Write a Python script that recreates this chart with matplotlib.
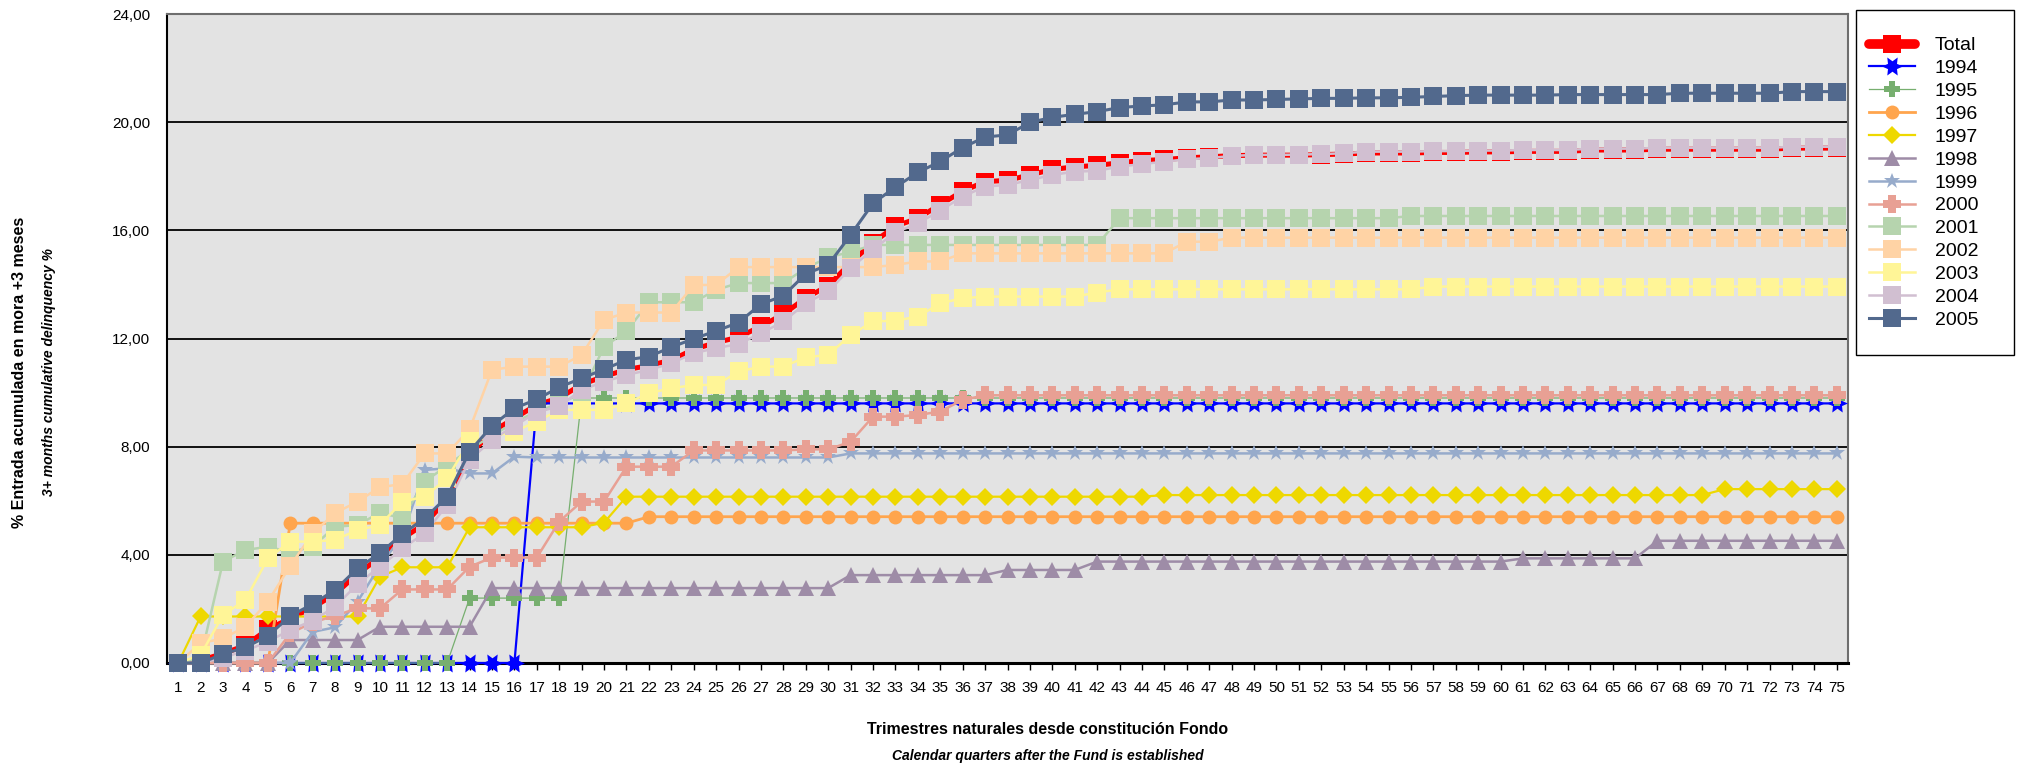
import matplotlib
matplotlib.use("Agg")
import matplotlib.pyplot as plt
from matplotlib.patches import Rectangle
from matplotlib.ticker import FixedLocator, FuncFormatter

plt.rcParams['font.family'] = ['Liberation Sans', 'DejaVu Sans']

# ---------------------------------------------------------------- data
quarters = list(range(1, 76))
y_ticks = [0, 4, 8, 12, 16, 20, 24]

total = [
    0.00, 0.10, 0.35, 0.65, 1.25, 1.65, 2.05, 2.55, 3.30, 3.90,
    4.60, 5.15, 6.05, 7.70, 8.55, 9.05, 9.55, 9.80, 10.30, 10.60,
    10.85, 11.00, 11.20, 11.60, 11.85, 12.05, 12.45, 12.90, 13.50, 13.95,
    14.80, 15.55, 16.15, 16.45, 16.95, 17.45, 17.80, 17.85, 18.05, 18.25,
    18.35, 18.40, 18.50, 18.58, 18.62, 18.68, 18.72, 18.76, 18.78, 18.78,
    18.78, 18.80, 18.82, 18.86, 18.86, 18.86, 18.88, 18.88, 18.90, 18.90,
    18.92, 18.92, 18.92, 18.97, 18.97, 18.97, 19.00, 19.00, 19.00, 19.00,
    19.00, 19.00, 19.04, 19.04, 19.04,
]

y1994 = [
    0.00, 0.00, 0.00, 0.00, 0.00, 0.00, 0.00, 0.00, 0.00, 0.00,
    0.00, 0.00, 0.00, 0.00, 0.00, 0.00, 9.60, 9.60, 9.60, 9.60,
    9.60, 9.60, 9.60, 9.60, 9.60, 9.60, 9.60, 9.60, 9.60, 9.60,
    9.60, 9.60, 9.60, 9.60, 9.60, 9.60, 9.60, 9.60, 9.60, 9.60,
    9.60, 9.60, 9.60, 9.60, 9.60, 9.60, 9.60, 9.60, 9.60, 9.60,
    9.60, 9.60, 9.60, 9.60, 9.60, 9.60, 9.60, 9.60, 9.60, 9.60,
    9.60, 9.60, 9.60, 9.60, 9.60, 9.60, 9.60, 9.60, 9.60, 9.60,
    9.60, 9.60, 9.60, 9.60, 9.60,
]

y1995 = [
    0.00, 0.00, 0.00, 0.00, 0.00, 0.00, 0.00, 0.00, 0.00, 0.00,
    0.00, 0.00, 0.00, 2.40, 2.40, 2.40, 2.40, 2.40, 9.80, 9.80,
    9.80, 9.80, 9.80, 9.80, 9.80, 9.80, 9.80, 9.80, 9.80, 9.80,
    9.80, 9.80, 9.80, 9.80, 9.80, 9.80, 9.80, 9.80, 9.80, 9.80,
    9.80, 9.80, 9.80, 9.80, 9.80, 9.80, 9.80, 9.80, 9.80, 9.80,
    9.80, 9.80, 9.80, 9.80, 9.80, 9.80, 9.80, 9.80, 9.80, 9.80,
    9.80, 9.80, 9.80, 9.80, 9.80, 9.80, 9.80, 9.80, 9.80, 9.80,
    9.80, 9.80, 9.80, 9.80, 9.80,
]

y1996 = [
    0.00, 0.00, 0.00, 0.00, 0.00, 5.17, 5.17, 5.17, 5.17, 5.17,
    5.17, 5.17, 5.17, 5.17, 5.17, 5.17, 5.17, 5.17, 5.17, 5.17,
    5.17, 5.41, 5.41, 5.41, 5.41, 5.41, 5.41, 5.41, 5.41, 5.41,
    5.41, 5.41, 5.41, 5.41, 5.41, 5.41, 5.41, 5.41, 5.41, 5.41,
    5.41, 5.41, 5.41, 5.41, 5.41, 5.41, 5.41, 5.41, 5.41, 5.41,
    5.41, 5.41, 5.41, 5.41, 5.41, 5.41, 5.41, 5.41, 5.41, 5.41,
    5.41, 5.41, 5.41, 5.41, 5.41, 5.41, 5.41, 5.41, 5.41, 5.41,
    5.41, 5.41, 5.41, 5.41, 5.41,
]

y1997 = [
    0.00, 1.72, 1.72, 1.72, 1.72, 1.72, 1.72, 1.72, 1.72, 3.19,
    3.54, 3.54, 3.54, 5.02, 5.02, 5.02, 5.02, 5.02, 5.02, 5.19,
    6.15, 6.15, 6.15, 6.15, 6.15, 6.15, 6.15, 6.15, 6.15, 6.15,
    6.15, 6.15, 6.15, 6.15, 6.15, 6.15, 6.15, 6.15, 6.15, 6.15,
    6.15, 6.15, 6.15, 6.15, 6.21, 6.21, 6.21, 6.21, 6.21, 6.21,
    6.21, 6.21, 6.21, 6.21, 6.21, 6.21, 6.21, 6.21, 6.21, 6.21,
    6.21, 6.21, 6.21, 6.21, 6.21, 6.21, 6.21, 6.21, 6.21, 6.43,
    6.43, 6.43, 6.43, 6.43, 6.43,
]

y1998 = [
    0.00, 0.00, 0.00, 0.00, 0.00, 0.85, 0.85, 0.85, 0.85, 1.34,
    1.34, 1.34, 1.34, 1.34, 2.77, 2.77, 2.77, 2.77, 2.77, 2.77,
    2.77, 2.77, 2.77, 2.77, 2.77, 2.77, 2.77, 2.77, 2.77, 2.77,
    3.25, 3.25, 3.25, 3.25, 3.25, 3.25, 3.25, 3.44, 3.44, 3.44,
    3.44, 3.75, 3.75, 3.75, 3.75, 3.75, 3.75, 3.75, 3.75, 3.75,
    3.75, 3.75, 3.75, 3.75, 3.75, 3.75, 3.75, 3.75, 3.75, 3.75,
    3.87, 3.87, 3.87, 3.87, 3.87, 3.87, 4.52, 4.52, 4.52, 4.52,
    4.52, 4.52, 4.52, 4.52, 4.52,
]

y1999 = [
    0.00, 0.00, 0.00, 0.00, 0.00, 0.00, 1.15, 1.32, 2.27, 3.60,
    4.70, 7.14, 7.20, 7.01, 7.01, 7.63, 7.60, 7.60, 7.60, 7.60,
    7.60, 7.60, 7.60, 7.60, 7.60, 7.60, 7.60, 7.60, 7.60, 7.60,
    7.75, 7.75, 7.75, 7.75, 7.75, 7.75, 7.75, 7.75, 7.75, 7.75,
    7.75, 7.75, 7.75, 7.75, 7.75, 7.75, 7.75, 7.75, 7.75, 7.75,
    7.75, 7.75, 7.75, 7.75, 7.75, 7.75, 7.75, 7.75, 7.75, 7.75,
    7.75, 7.75, 7.75, 7.75, 7.75, 7.75, 7.75, 7.75, 7.75, 7.75,
    7.75, 7.75, 7.75, 7.75, 7.75,
]

y2000 = [
    0.00, 0.00, 0.00, 0.00, 0.00, 1.10, 1.50, 1.75, 2.02, 2.02,
    2.72, 2.72, 2.72, 3.56, 3.90, 3.90, 3.90, 5.23, 5.97, 5.97,
    7.26, 7.26, 7.26, 7.86, 7.86, 7.86, 7.86, 7.86, 7.90, 7.90,
    8.18, 9.11, 9.11, 9.17, 9.30, 9.73, 9.90, 9.90, 9.90, 9.90,
    9.90, 9.90, 9.90, 9.90, 9.90, 9.90, 9.90, 9.90, 9.90, 9.90,
    9.90, 9.90, 9.90, 9.90, 9.90, 9.90, 9.90, 9.90, 9.90, 9.90,
    9.90, 9.90, 9.90, 9.90, 9.90, 9.90, 9.90, 9.90, 9.90, 9.90,
    9.90, 9.90, 9.90, 9.90, 9.90,
]

y2001 = [
    0.00, 0.20, 3.75, 4.18, 4.30, 4.10, 4.30, 5.04, 5.10, 5.56,
    5.35, 6.71, 7.30, 7.90, 8.40, 8.90, 9.30, 9.60, 9.95, 11.70,
    12.26, 13.34, 13.34, 13.34, 13.80, 14.05, 14.05, 14.05, 14.60, 15.00,
    15.20, 15.46, 15.46, 15.46, 15.46, 15.46, 15.46, 15.46, 15.46, 15.46,
    15.46, 15.46, 16.45, 16.45, 16.45, 16.45, 16.45, 16.45, 16.45, 16.45,
    16.45, 16.45, 16.45, 16.45, 16.45, 16.53, 16.53, 16.53, 16.53, 16.53,
    16.53, 16.53, 16.53, 16.53, 16.53, 16.53, 16.53, 16.53, 16.53, 16.53,
    16.53, 16.53, 16.53, 16.53, 16.53,
]

y2002 = [
    0.00, 0.73, 0.91, 1.34, 2.27, 3.59, 4.80, 5.54, 5.97, 6.50,
    6.62, 7.75, 7.75, 8.64, 10.84, 10.96, 10.96, 10.96, 11.39, 12.69,
    12.96, 12.96, 12.96, 13.98, 13.98, 14.64, 14.64, 14.64, 14.64, 14.64,
    14.64, 14.64, 14.72, 14.85, 14.85, 15.15, 15.15, 15.15, 15.15, 15.15,
    15.15, 15.15, 15.15, 15.15, 15.15, 15.58, 15.58, 15.73, 15.73, 15.73,
    15.73, 15.73, 15.73, 15.73, 15.73, 15.73, 15.73, 15.73, 15.73, 15.73,
    15.73, 15.73, 15.73, 15.73, 15.73, 15.73, 15.73, 15.73, 15.73, 15.73,
    15.73, 15.73, 15.73, 15.73, 15.73,
]

y2003 = [
    0.00, 0.30, 1.78, 2.33, 3.87, 4.49, 4.49, 4.55, 4.92, 5.10,
    5.97, 6.15, 6.83, 8.20, 8.37, 8.56, 8.93, 9.36, 9.36, 9.36,
    9.60, 9.98, 10.16, 10.28, 10.28, 10.78, 10.96, 10.96, 11.31, 11.39,
    12.13, 12.63, 12.66, 12.81, 13.30, 13.49, 13.55, 13.55, 13.55, 13.55,
    13.55, 13.70, 13.82, 13.82, 13.82, 13.82, 13.82, 13.82, 13.82, 13.82,
    13.82, 13.82, 13.82, 13.82, 13.82, 13.82, 13.92, 13.92, 13.92, 13.92,
    13.92, 13.92, 13.92, 13.92, 13.92, 13.92, 13.92, 13.92, 13.92, 13.92,
    13.92, 13.92, 13.92, 13.92, 13.92,
]

y2004 = [
    0.00, 0.00, 0.20, 0.45, 0.79, 1.22, 1.57, 2.08, 2.92, 3.56,
    4.24, 4.80, 5.84, 7.50, 8.25, 8.77, 9.27, 9.50, 10.10, 10.40,
    10.65, 10.84, 11.08, 11.46, 11.64, 11.80, 12.19, 12.63, 13.30, 13.74,
    14.60, 15.30, 15.92, 16.26, 16.73, 17.25, 17.62, 17.68, 17.86, 18.05,
    18.17, 18.20, 18.36, 18.45, 18.54, 18.63, 18.67, 18.75, 18.79, 18.79,
    18.80, 18.82, 18.85, 18.91, 18.91, 18.91, 18.93, 18.93, 18.95, 18.95,
    18.97, 18.97, 18.97, 19.02, 19.02, 19.02, 19.05, 19.05, 19.05, 19.05,
    19.05, 19.05, 19.09, 19.09, 19.09,
]

y2005 = [
    0.00, 0.00, 0.33, 0.58, 1.00, 1.74, 2.18, 2.70, 3.50, 4.06,
    4.77, 5.35, 6.15, 7.82, 8.77, 9.42, 9.75, 10.20, 10.53, 10.86,
    11.21, 11.33, 11.68, 11.99, 12.28, 12.59, 13.27, 13.58, 14.39, 14.72,
    15.83, 17.00, 17.60, 18.14, 18.55, 19.06, 19.45, 19.53, 19.99, 20.18,
    20.29, 20.39, 20.54, 20.60, 20.64, 20.75, 20.75, 20.82, 20.82, 20.84,
    20.86, 20.88, 20.88, 20.90, 20.90, 20.92, 20.95, 20.98, 21.00, 21.00,
    21.00, 21.00, 21.02, 21.02, 21.02, 21.02, 21.02, 21.07, 21.07, 21.07,
    21.07, 21.07, 21.13, 21.13, 21.13,
]

labels = ['Total', '1994', '1995', '1996', '1997', '1998', '1999',
          '2000', '2001', '2002', '2003', '2004', '2005']
series = [total, y1994, y1995, y1996, y1997, y1998, y1999,
          y2000, y2001, y2002, y2003, y2004, y2005]

# ---------------------------------------------------------------- styles
# chunky plus sign used for the 1995 and 2000 vintages
a = 0.22
thick_plus = [(-a, -0.5), (a, -0.5), (a, -a), (0.5, -a), (0.5, a), (a, a),
              (a, 0.5), (-a, 0.5), (-a, a), (-0.5, a), (-0.5, -a), (-a, -a),
              (-a, -0.5)]

styles = {
    'Total': dict(color='#FF0000', marker='s', ms=12.5, lw=3.6),
    '1994': dict(color='#0000FF', marker=(6, 1, 90), ms=15, lw=1.6),
    '1995': dict(color='#77AF6F', marker=thick_plus, ms=11, lw=0.9),
    '1996': dict(color='#FFA54D', marker='o', ms=10, lw=2.0),
    '1997': dict(color='#EED800', marker='D', ms=9, lw=1.6),
    '1998': dict(color='#9E8CA7', marker='^', ms=11, lw=1.8),
    '1999': dict(color='#97ABCB', marker='*', ms=12, lw=1.8),
    '2000': dict(color='#E8A094', marker=thick_plus, ms=13, lw=1.8),
    '2001': dict(color='#B6D4AE', marker='s', ms=13, lw=1.8),
    '2002': dict(color='#FFD3A5', marker='s', ms=13, lw=1.8),
    '2003': dict(color='#FFF597', marker='s', ms=13, lw=1.8),
    '2004': dict(color='#D1BFD1', marker='s', ms=13, lw=1.8),
    '2005': dict(color='#52698D', marker='s', ms=13, lw=2.2),
}

W, H = 2019, 764
fig = plt.figure(figsize=(W / 100, H / 100), dpi=100)
ax = fig.add_axes([167 / W, 101 / H, 1681 / W, 649 / H])
ax.set_facecolor('#E3E3E3')

handles = []
for z, (name, vals) in enumerate(zip(labels, series)):
    st = styles[name]
    ln, = ax.plot(quarters, vals, color=st['color'], lw=st['lw'],
                  marker=st['marker'], markersize=st['ms'],
                  markerfacecolor=st['color'], markeredgewidth=0,
                  label=name, zorder=3 + z, clip_on=False,
                  solid_joinstyle='round')
    handles.append(ln)

ax.set_xlim(0.5, 75.5)
ax.set_ylim(0, 24)

ax.xaxis.set_major_locator(FixedLocator(quarters))
ax.set_xticklabels([str(q) for q in quarters],
                   family=['Liberation Sans Narrow', 'Liberation Sans'],
                   fontsize=11)
ax.yaxis.set_major_locator(FixedLocator(y_ticks))
ax.yaxis.set_major_formatter(
    FuncFormatter(lambda v, p: f"{v:.2f}".replace('.', ',')))
for lab in ax.get_yticklabels():
    lab.set_family(['Liberation Sans Narrow', 'Liberation Sans'])
    lab.set_fontsize(11)

ax.tick_params(axis='x', direction='out', length=5, width=1,
               color='black', pad=8)
ax.tick_params(axis='y', length=0, pad=12)

ax.yaxis.grid(True, color='black', lw=1.3)
ax.set_axisbelow(True)

ax.spines['left'].set_color('black')
ax.spines['left'].set_linewidth(1.5)
ax.spines['bottom'].set_color('black')
ax.spines['bottom'].set_linewidth(2.2)
for side in ('top', 'right'):
    ax.spines[side].set_color('#6E6E6E')
    ax.spines[side].set_linewidth(1.5)

# axis titles
fig.text(20 / W, 1 - 372 / H, '% Entrada acumulada en mora +3 meses',
         rotation=90, ha='center', va='center', fontsize=11.5,
         fontweight='bold')
fig.text(49 / W, 1 - 372 / H, '3+ months cumulative delinquency %',
         rotation=90, ha='center', va='center', fontsize=10,
         fontweight='bold', fontstyle='italic')
fig.text(1048 / W, 1 - 729 / H, 'Trimestres naturales desde constitución Fondo',
         ha='center', va='center', fontsize=11.5, fontweight='bold')
fig.text(1048 / W, 1 - 756 / H, 'Calendar quarters after the Fund is established',
         ha='center', va='center', fontsize=10, fontweight='bold',
         fontstyle='italic')

# legend box and entries
box = Rectangle((1856 / W, 1 - 355 / H), 158 / W, 345 / H,
                transform=fig.transFigure, facecolor='white',
                edgecolor='black', lw=1.0, zorder=1)
fig.add_artist(box)

leg = fig.legend(handles, labels, loc='upper left',
                 bbox_to_anchor=(1861 / W, 1 - 29 / H),
                 bbox_transform=fig.transFigure, frameon=False,
                 fontsize=14, labelspacing=0.27, handlelength=2.4,
                 handletextpad=1.0, borderpad=0.4, borderaxespad=0,
                 numpoints=1)
leg.set_zorder(5)
tot_handle = leg.legend_handles[0]
tot_handle.set_linewidth(7)
tot_handle.set_solid_capstyle('round')

fig.savefig('out.png', dpi=100, facecolor='white')
